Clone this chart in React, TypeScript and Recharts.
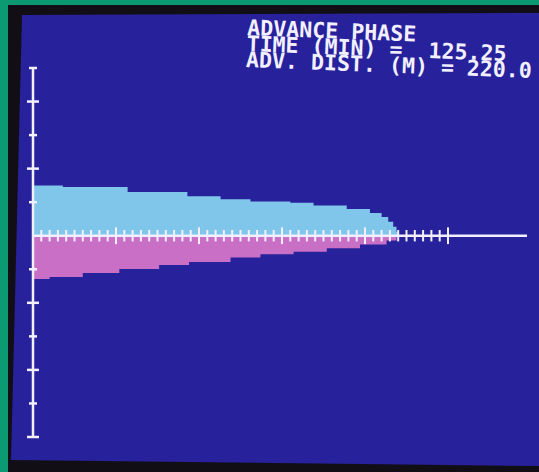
import {
    ComposedChart,
    Area,
    XAxis,
    YAxis,
    ReferenceLine,
} from 'recharts';

// surface water profile during the advance (m along the furrow, depth units above ground)
const distSurface = [0, 18, 57, 93, 113, 131, 155, 169, 189, 203, 210, 214, 217, 219, 220];
const depthSurface = [1.5, 1.45, 1.3, 1.18, 1.09, 1.02, 0.98, 0.9, 0.8, 0.68, 0.56, 0.42, 0.27, 0.12, 0];

// infiltrated depth (drawn below the ground line)
const distInfil = [0, 10, 30, 52, 76, 94, 119, 137, 157, 177, 197, 213, 219];
const depthInfil = [-1.29, -1.23, -1.11, -0.99, -0.87, -0.78, -0.65, -0.55, -0.48, -0.37, -0.26, -0.14, 0];

const yTicks = [-6, -5, -4, -3, -2, -1, 1, 2, 3, 4, 5];
const xTicks = Array.from({ length: 50 }, (_, i) => (i + 1) * 5); // 5 .. 250 m
const X_MAX = 297.6;

const headerLines = ['ADVANCE PHASE', 'TIME (MIN) =  125.25', 'ADV. DIST. (M) = 220.0'];

const surfaceData = distSurface.map((x, i) => ({ x, v: depthSurface[i] }));
const infilData = distInfil.map((x, i) => ({ x, v: depthInfil[i] }));

const WHITE = '#f2f0ff';

function YTick(props: any) {
    const { x, y, payload } = props;
    const w = payload.value % 2 === 0 ? 6 : 4;
    return <line x1={x - w} x2={x + w} y1={y} y2={y} stroke={WHITE} strokeWidth={2.5} />;
}

export default function App() {
    return (
        <div style={{ position: 'absolute', left: 0, top: 0, width: 539, height: 472, background: '#0b9a72', overflow: 'hidden' }}>
            <div style={{ position: 'absolute', left: 8, top: 5, width: 531, height: 467, background: '#120e16' }} />
            <div
                style={{
                    position: 'absolute', left: 0, top: 0, width: 539, height: 472, background: '#27219b',
                    clipPath: 'polygon(22px 15px, 539px 13px, 539px 466px, 11px 460px)'
                }}
            />
            <div style={{ position: 'absolute', left: 0, top: 0 }}>
                <ComposedChart
                    width={539}
                    height={472}
                    data={surfaceData}
                    margin={{ top: 68, right: 12, bottom: 35, left: 3 }}
                >
                    <XAxis type="number" dataKey="x" domain={[0, X_MAX]} hide allowDataOverflow />
                    <YAxis
                        type="number"
                        domain={[-6, 5]}
                        ticks={yTicks}
                        width={30}
                        tickSize={0}
                        tickMargin={0}
                        tickLine={false}
                        axisLine={{ stroke: WHITE, strokeWidth: 2.5 }}
                        tick={(p: any) => <YTick {...p} />}
                        interval={0}
                        allowDataOverflow
                    />
                    <Area
                        data={surfaceData}
                        dataKey="v"
                        type="stepAfter"
                        baseValue={0}
                        stroke="none"
                        fill="#7fc6ea"
                        fillOpacity={1}
                        isAnimationActive={false}
                    />
                    <Area
                        data={infilData}
                        dataKey="v"
                        type="stepAfter"
                        baseValue={0}
                        stroke="none"
                        fill="#c96fc6"
                        fillOpacity={1}
                        isAnimationActive={false}
                    />
                    <ReferenceLine y={0} stroke={WHITE} strokeWidth={2.5} />
                    {xTicks.map(t => {
                        const h = t % 50 === 0 ? 0.25 : 0.17;
                        return (
                            <ReferenceLine
                                key={t}
                                segment={[{ x: t, y: -h }, { x: t, y: h }]}
                                stroke={WHITE}
                                strokeWidth={2}
                            />
                        );
                    })}
                </ComposedChart>
            </div>
            <svg width={539} height={472} style={{ position: 'absolute', left: 0, top: 0 }}>
                <g transform="rotate(2.2 247 35)">
                    {headerLines.map((s, i) => (
                        <text
                            key={i}
                            x={247}
                            y={35 + i * 16}
                            fill={WHITE}
                            fontFamily="'DejaVu Sans Mono', 'Liberation Mono', monospace"
                            fontWeight="bold"
                            fontSize={21.6}
                            style={{ whiteSpace: 'pre' }}
                        >
                            {s}
                        </text>
                    ))}
                </g>
            </svg>
        </div>
    );
}
